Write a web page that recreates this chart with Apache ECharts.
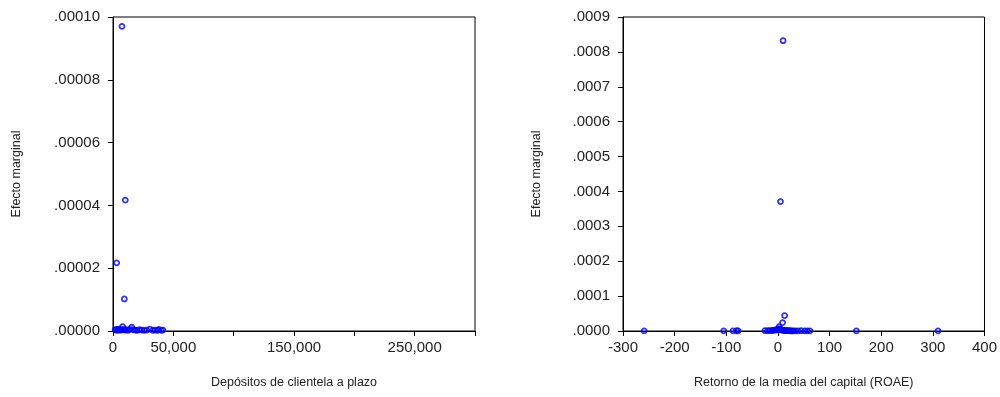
<!DOCTYPE html>
<html>
<head>
<meta charset="utf-8">
<script src="https://cdn.jsdelivr.net/npm/echarts@6/dist/echarts.min.js"></script>
<style>
  html, body { margin: 0; padding: 0; background: #fff; }
  #chart { width: 1000px; height: 397px; }
</style>
</head>
<body>
<div id="chart"></div>
<script>
// panel izquierdo: depositos de clientela a plazo
const depX = [7460, 10200, 3060, 9400,
  1800, 2600, 3500, 4300, 5200, 6100, 7000, 8000, 8600, 9800, 11000, 12500,
  14000, 15500, 17000, 18500, 20000, 22000, 24000, 26000, 28000, 30600,
  33000, 35000, 37000, 38000, 40000, 41400];
const depY = [0.0000970, 0.0000417, 0.0000217, 0.0000102,
  0.0000004, 0.0000003, 0.0000005, 0.0000002, 0.0000006, 0.0000004, 0.0000003,
  0.0000014, 0.0000005, 0.0000003, 0.0000004, 0.0000002, 0.0000005, 0.0000012,
  0.0000004, 0.0000003, 0.0000002, 0.0000004, 0.0000003, 0.0000002, 0.0000003,
  0.0000006, 0.0000002, 0.0000003, 0.0000002, 0.0000005, 0.0000002, 0.0000003];

// panel derecho: ROAE
const roaeX = [10, 5, 13, 9, 2.4,
  -259, -105, -87, -80, -77, -25, -20, -16, -12, -9, -6, -4, -2, 0, 1, 3, 4,
  6, 7, 8, 11, 12, 14, 15, 17, 19, 21, 24, 27, 30, 34, 39, 45, 52, 57, 62,
  152, 310];
const roaeY = [0.000832, 0.000371, 0.0000439, 0.0000238, 0.0000123,
  0.0000005, 0.0000006, 0.0000005, 0.0000007, 0.0000004, 0.0000008, 0.0000010,
  0.0000012, 0.0000015, 0.0000020, 0.0000025, 0.0000030, 0.0000035, 0.0000045,
  0.0000060, 0.0000050, 0.0000040, 0.0000035, 0.0000030, 0.0000025, 0.0000020,
  0.0000018, 0.0000015, 0.0000012, 0.0000010, 0.0000009, 0.0000008, 0.0000007,
  0.0000006, 0.0000006, 0.0000005, 0.0000004, 0.0000008, 0.0000005, 0.0000006,
  0.0000004, 0.0000005, 0.0000004];

const depTickLabels = [0, 50000, 150000, 250000];

const chart = echarts.init(document.getElementById('chart'));

const font = 'Liberation Sans, Arial, sans-serif';
const axisLine = { show: true, onZero: false, lineStyle: { color: '#000', width: 1 } };
const axisTick = { show: true, inside: false, length: 5, lineStyle: { color: '#000' } };

function pairs(xs, ys) {
  return xs.map((x, i) => [x, ys[i]]);
}

const marker = {
  type: 'scatter',
  symbol: 'circle',
  symbolSize: 5,
  itemStyle: { color: 'rgba(0,0,0,0)', borderColor: '#0000ff', borderWidth: 1.8 },
  emphasis: { disabled: true }
};

const titleStyle = { fontSize: 12.5, color: '#222', fontFamily: font };
const tickStyle = { fontSize: 15, color: '#222', fontFamily: font };

const option = {
  animation: false,
  backgroundColor: '#fff',
  textStyle: { fontFamily: font },
  grid: [
    { left: 113, top: 17, width: 362, height: 314, show: true, borderColor: '#000', borderWidth: 1, backgroundColor: '#fff' },
    { left: 623, top: 17, width: 362, height: 314, show: true, borderColor: '#000', borderWidth: 1, backgroundColor: '#fff' }
  ],
  xAxis: [
    {
      gridIndex: 0, type: 'value', min: 0, max: 300000, interval: 50000,
      name: 'Depósitos de clientela a plazo', nameLocation: 'middle', nameGap: 45,
      nameTextStyle: titleStyle,
      axisLine: axisLine, axisTick: axisTick, splitLine: { show: false },
      axisLabel: Object.assign({}, tickStyle, {
        margin: 9,
        formatter: v => depTickLabels.includes(v) ? v.toLocaleString('en-US') : ''
      })
    },
    {
      gridIndex: 1, type: 'value', min: -300, max: 400, interval: 100,
      name: 'Retorno de la media del capital (ROAE)', nameLocation: 'middle', nameGap: 45,
      nameTextStyle: titleStyle,
      axisLine: axisLine, axisTick: axisTick, splitLine: { show: false },
      axisLabel: Object.assign({}, tickStyle, { margin: 9 })
    }
  ],
  yAxis: [
    {
      gridIndex: 0, type: 'value', min: 0, max: 0.0001, interval: 0.00002,
      name: 'Efecto marginal', nameLocation: 'middle', nameGap: 90,
      nameTextStyle: titleStyle,
      axisLine: axisLine, axisTick: axisTick, splitLine: { show: false },
      axisLabel: Object.assign({}, tickStyle, {
        margin: 13,
        formatter: v => v.toFixed(5).replace(/^0/, '')
      })
    },
    {
      gridIndex: 1, type: 'value', min: 0, max: 0.0009, interval: 0.0001,
      name: 'Efecto marginal', nameLocation: 'middle', nameGap: 80,
      nameTextStyle: titleStyle,
      axisLine: axisLine, axisTick: axisTick, splitLine: { show: false },
      axisLabel: Object.assign({}, tickStyle, {
        margin: 13,
        formatter: v => v.toFixed(4).replace(/^0/, '')
      })
    }
  ],
  series: [
    Object.assign({}, marker, { xAxisIndex: 0, yAxisIndex: 0, data: pairs(depX, depY) }),
    Object.assign({}, marker, { xAxisIndex: 1, yAxisIndex: 1, data: pairs(roaeX, roaeY) })
  ]
};

chart.setOption(option);
window.addEventListener('resize', function () {
  chart.resize();
});
</script>
</body>
</html>
